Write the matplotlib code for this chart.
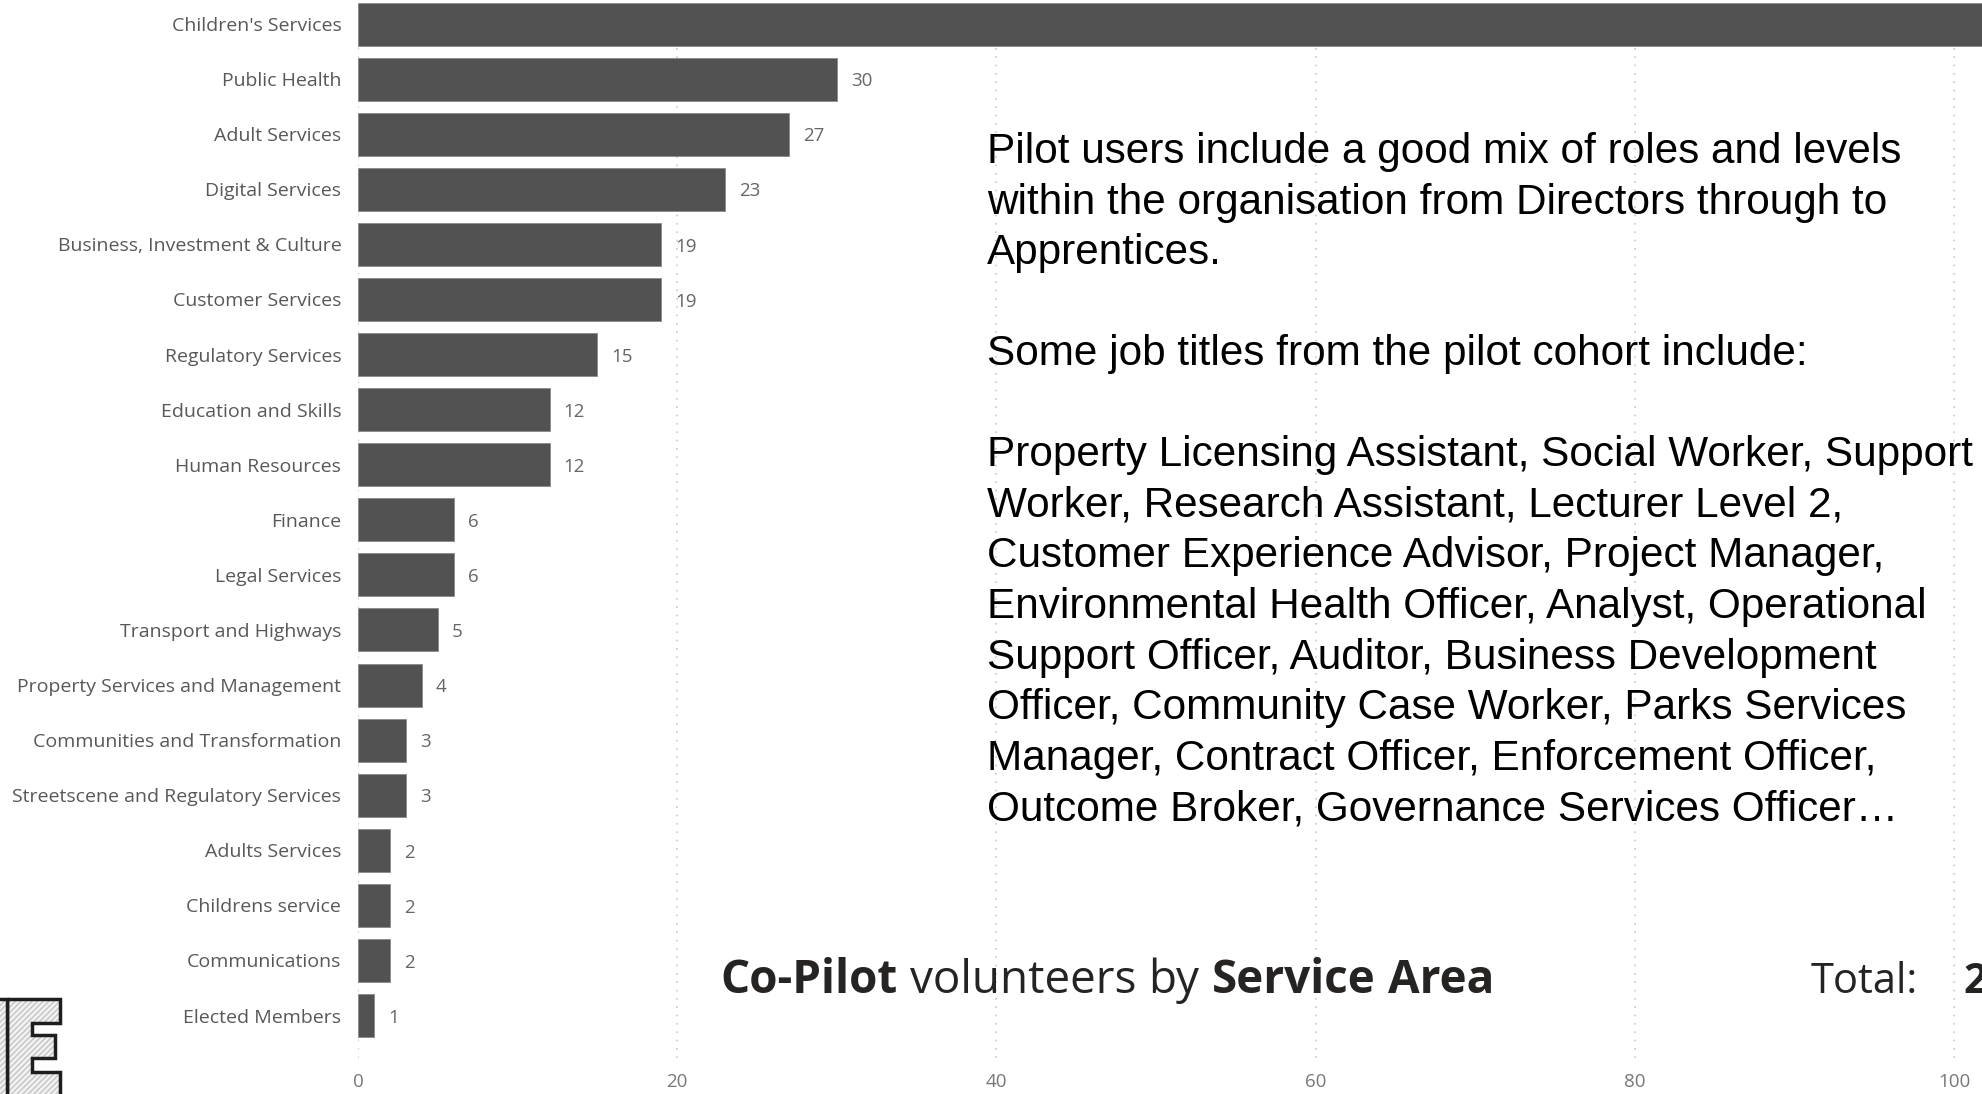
import matplotlib
matplotlib.use("Agg")
import matplotlib.pyplot as plt
from matplotlib.patches import Polygon

# Co-Pilot volunteers by service area
areas = ["Children's Services", "Public Health", "Adult Services", "Digital Services",
         "Business, Investment & Culture", "Customer Services", "Regulatory Services",
         "Education and Skills", "Human Resources", "Finance", "Legal Services",
         "Transport and Highways", "Property Services and Management",
         "Communities and Transformation", "Streetscene and Regulatory Services",
         "Adults Services", "Childrens service", "Communications", "Elected Members"]
volunteers = [105, 30, 27, 23, 19, 19, 15, 12, 12, 6, 6, 5, 4, 3, 3, 2, 2, 2, 1]
x_ticks = [0, 20, 40, 60, 80, 100]

notes = [
    "Pilot users include a good mix of roles and levels",
    "within the organisation from Directors through to",
    "Apprentices.",
    "",
    "Some job titles from the pilot cohort include:",
    "",
    "Property Licensing Assistant, Social Worker, Support",
    "Worker, Research Assistant, Lecturer Level 2,",
    "Customer Experience Advisor, Project Manager,",
    "Environmental Health Officer, Analyst, Operational",
    "Support Officer, Auditor, Business Development",
    "Officer, Community Case Worker, Parks Services",
    "Manager, Contract Officer, Enforcement Officer,",
    "Outcome Broker, Governance Services Officer\u2026",
]

W, H = 1982, 1094
ui_font = ["Open Sans", "DejaVu Sans"]
body_font = ["Liberation Sans", "DejaVu Sans"]

fig = plt.figure(figsize=(W / 100, H / 100), dpi=100)
fig.patch.set_facecolor("white")

# axes placed in pixel terms of the reference
ax = fig.add_axes([358 / W, 36 / H, 1 - 358 / W, 1 - 36 / H])
pos = list(range(len(areas)))
ax.barh(pos, volunteers, height=0.78, color="#525252", edgecolor="#8a8a8a", linewidth=0.6, zorder=2)
ax.set_xlim(0, 101.75)
ax.set_ylim(18.77, -0.436)
ax.set_yticks(pos)
ax.set_yticklabels(areas, fontsize=14, color="#5a5856", family=ui_font)
ax.set_xticks(x_ticks)
ax.set_xticklabels([str(t) for t in x_ticks], fontsize=13.5, color="#777777", family=ui_font)
ax.tick_params(axis="y", length=0, pad=12)
ax.tick_params(axis="x", length=0, pad=11)
for s in ax.spines.values():
    s.set_visible(False)
ax.grid(axis="x", linestyle=(0, (1, 4)), color="#c8c8c8", linewidth=1.2, zorder=0)
ax.set_axisbelow(True)

for p, v in zip(pos, volunteers):
    ax.annotate(str(v), (v, p + 0.04), xytext=(10, 0), textcoords="offset points",
                va="center", ha="left", fontsize=13.5, color="#666666", family=ui_font,
                annotation_clip=True)

# note block
for i, line in enumerate(notes):
    fig.text(987 / W, 1 - (163 + 50.56 * i) / H, line, fontsize=30.4, family=body_font,
             color="black", va="baseline", ha="left")

# title with mixed weights
fig.canvas.draw()
r = fig.canvas.get_renderer()
x = 720
gap = 33 * 100 / 72 * 0.27
for word, wt in [("Co-Pilot", "bold"), ("volunteers", "normal"), ("by", "normal"),
                 ("Service", "bold"), ("Area", "bold")]:
    t = fig.text(x / W, 1 - 993 / H, word, fontsize=33, fontweight=wt, family=ui_font,
                 color="#252423", va="baseline", ha="left")
    x = t.get_window_extent(r).x1 + gap

total = sum(volunteers)
fig.text(1811 / W, 1 - 993 / H, "Total:", fontsize=30, family=ui_font,
         color="#252423", va="baseline", ha="left")
fig.text(1963 / W, 1 - 993 / H, str(total), fontsize=30, fontweight="bold", family=ui_font,
         color="#252423", va="baseline", ha="left")

# hatched logo corner
def fp(pts):
    return [(px / W, 1 - py / H) for px, py in pts]

e_shape = [(7, 999), (60, 999), (60, 1023), (32, 1023), (32, 1035), (55, 1035),
           (55, 1058), (32, 1058), (32, 1072), (60, 1072), (60, 1100), (7, 1100)]
left_piece = [(-5, 999), (7, 999), (7, 1100), (-5, 1100)]
for shape in (e_shape, left_piece):
    fig.patches.append(Polygon(fp(shape), closed=True, transform=fig.transFigure,
                               facecolor="#f2f2f2", edgecolor="#c4c4c4", hatch="//////",
                               linewidth=0))
    fig.patches.append(Polygon(fp(shape), closed=True, transform=fig.transFigure,
                               fill=False, edgecolor="#1e1e1e", linewidth=2.5))

fig.savefig("out.png", dpi=100, facecolor="white")
